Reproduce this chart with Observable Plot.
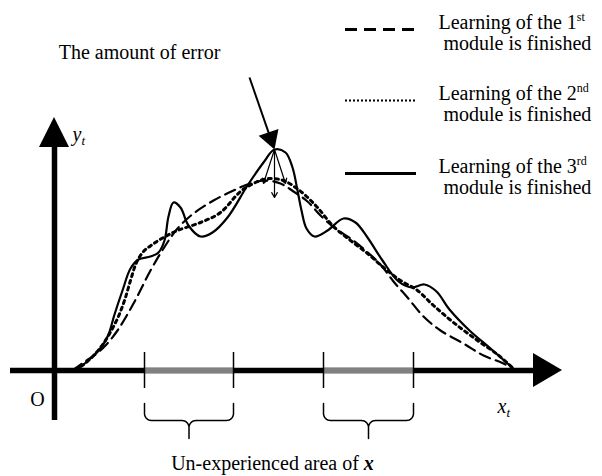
<!DOCTYPE html>
<html>
<head>
<meta charset="utf-8">
<script src="https://cdn.jsdelivr.net/npm/d3@7"></script>
<script src="https://cdn.jsdelivr.net/npm/@observablehq/plot@0.6"></script>
<style>
  html, body { margin: 0; padding: 0; background: #fff; }
  svg { display: block; }
</style>
</head>
<body>
<div id="chart"></div>
<script>
// ---------------- DATA ----------------
// x: distance to the right of the y-axis, y: height above the x-axis
const seriesNames = ["1st module", "2nd module", "3rd module"];

// after learning of the 1st module (dashed)
const curve1X = [18,29,41,51,63,79,96,109,123,139,159,179,196,211,226,239,253,266,281,296,311,326,339,353,369,386,409,429,449,461];
const curve1Y = [0,8,16,25,40,67,100,122,142,157,170,180,187,190,187,179,169,155,142,132,120,106,89,73,54,40,27,15,7,0];

// after learning of the 2nd module (dotted)
const curve2X = [21,34,46,54,63,70,76,82,89,98,109,123,146,166,186,201,214,229,241,251,263,279,296,313,329,346,363,379,399,423,443,461];
const curve2Y = [0,10,23,35,52,70,90,108,119,126,133,140,148,158,179,188,192,190,183,175,163,144,130,117,103,90,80,65,48,30,16,0];

// after learning of the 3rd module (solid)
const curve3X = [16,26,36,48,54,60,68,76,84,96,104,110,114,119,126,134,146,158,173,193,209,220,231,238,243,247,252,260,273,289,301,313,328,344,357,370,382,395,415,436,461];
const curve3Y = [0,4,12,25,36,56,80,102,111,114,118,130,154,168,163,145,134,138,153,185,208,221,218,203,180,160,142,134,140,152,148,133,110,89,83,86,79,61,40,22,0];

// un-experienced intervals of x
const gapStart = [90, 269];
const gapEnd   = [179, 359];

// texts
const legendLine1 = ["Learning of the 1", "Learning of the 2", "Learning of the 3"];
const legendSup   = ["st", "nd", "rd"];
const legendLine2 = "module is finished";
const errorLabel  = "The amount of error";
const areaLabel   = "Un-experienced area of";
const originLabel = "O";

// ---------------- LAYOUT ----------------
const FONT = "'Liberation Serif','Times New Roman',serif";
const rows = (xs, ys) => xs.map((x, i) => ({x, y: ys[i]}));
const c1 = rows(curve1X, curve1Y), c2 = rows(curve2X, curve2Y), c3 = rows(curve3X, curve3Y);

const peakI = d3.maxIndex(curve3Y);
const peak = {x: curve3X[peakI], y: curve3Y[peakI]};
const arrowStart = {x: 195, y: 293};
const headR = 10;
const headS = Math.sqrt(Math.PI * headR * headR) * 0.6824;
const sx = peak.x - arrowStart.x, sy = -(peak.y - arrowStart.y);
const slen = Math.hypot(sx, sy);
const headC = {x: peak.x - headS * sx / slen, y: peak.y + headS * sy / slen};
const headRot = Math.atan2(sx, -sy) * 180 / Math.PI;
const fanTargets = [{x: peak.x - 11, y: 187}, {x: peak.x, y: 173}, {x: peak.x + 11, y: 187}];

const gaps = gapStart.map((s, i) => ({s, e: gapEnd[i]}));
const ticks = gapStart.concat(gapEnd);

// brace paths
function bracePts(a, b, id) {
  const m = (a + b) / 2, top = -33, h = -50, tip = -68, r = 7, pts = [];
  const arc = (cx, cy, a0, a1) => { for (let k = 0; k <= 8; k++) { const t = a0 + (a1 - a0) * k / 8; pts.push({x: cx + r * Math.cos(t), y: cy + r * Math.sin(t), id}); } };
  pts.push({x: a, y: top, id});
  arc(a + r, h + r, Math.PI, 1.5 * Math.PI);
  arc(m - r, h - r, 0.5 * Math.PI, 0);
  pts.push({x: m, y: tip, id});
  arc(m + r, h - r, Math.PI, 0.5 * Math.PI);
  arc(b - r, h + r, 1.5 * Math.PI, 2 * Math.PI);
  pts.push({x: b, y: top, id});
  return pts;
}
const braces = gaps.flatMap((g, i) => bracePts(g.s, g.e, i));

const legendY = [341, 270, 197];
const legendRows = legendLine1.map((t, i) => ({t, y1: legendY[i] + 1, y2: legendY[i] - 20, ys: legendY[i]}));

const textOpts = {fontFamily: FONT, fontSize: 20, fill: "black", lineAnchor: "bottom"};

const svg = Plot.plot({
  width: 602,
  height: 476,
  margin: 0,
  x: {domain: [-54, 548], axis: null},
  y: {domain: [-106, 370], axis: null},
  style: {background: "#fff", fontFamily: FONT},
  marks: [
    // x axis
    Plot.ruleY([0], {x1: -44, x2: 480, strokeWidth: 5.5, stroke: "black"}),
    Plot.ruleY(gaps, {x1: "s", x2: "e", y: 0, strokeWidth: 5.5, stroke: "#808080"}),
    Plot.ruleX(ticks, {y1: -18, y2: 18, strokeWidth: 1.5, stroke: "black"}),
    Plot.areaY([{x: 479, a: -17, b: 17}, {x: 508, a: 0, b: 0}], {x: "x", y1: "a", y2: "b", fill: "black"}),
    // y axis
    Plot.ruleX([0], {y1: -50, y2: 224, strokeWidth: 5.5, stroke: "black"}),
    Plot.areaX([{y: 223, a: -15, b: 15}, {y: 253, a: 0, b: 0}], {y: "y", x1: "a", x2: "b", fill: "black"}),
    // curves
    Plot.line(c1, {x: "x", y: "y", curve: "catmull-rom", stroke: "black", strokeWidth: 2.2, strokeDasharray: "11,6"}),
    Plot.line(c2, {x: "x", y: "y", curve: "catmull-rom", stroke: "black", strokeWidth: 3, strokeDasharray: "3,4"}),
    Plot.line(c3, {x: "x", y: "y", curve: "catmull-rom", stroke: "black", strokeWidth: 2.2}),
    // error arrows
    Plot.arrow(fanTargets, {x1: peak.x, y1: peak.y, x2: "x", y2: "y", headLength: 7, strokeWidth: 1.2, stroke: "black"}),
    Plot.link([arrowStart], {x1: "x", y1: "y", x2: headC.x, y2: headC.y, strokeWidth: 2, stroke: "black"}),
    Plot.dot([headC], {x: "x", y: "y", r: headR, symbol: "triangle2", fill: "black", stroke: "none", rotate: headRot}),
    // braces
    Plot.line(braces, {x: "x", y: "y", z: "id", stroke: "black", strokeWidth: 1.5}),
    // legend samples
    Plot.ruleY([legendY[0]], {x1: 291, x2: 362, stroke: "black", strokeWidth: 3, strokeDasharray: "12,7"}),
    Plot.ruleY([legendY[1]], {x1: 291, x2: 363, stroke: "black", strokeWidth: 2, strokeDasharray: "2,2"}),
    Plot.ruleY([legendY[2]], {x1: 291, x2: 362, stroke: "black", strokeWidth: 3}),
    // legend texts
    Plot.text(legendRows, {x: 384, y: "y1", text: "t", textAnchor: "start", ...textOpts}),
    Plot.text(legendRows, {x: 389, y: "y2", text: () => legendLine2, textAnchor: "start", ...textOpts}),
    // labels
    Plot.text([errorLabel], {x: 85, y: 312, textAnchor: "middle", ...textOpts}),
    Plot.text([areaLabel], {x: 218, y: -99, textAnchor: "middle", ...textOpts}),
    Plot.text([originLabel], {x: -17, y: -35, textAnchor: "middle", ...textOpts}),
    Plot.text(["x"], {x: 443, y: -42, textAnchor: "start", fontStyle: "italic", ...textOpts}),
    Plot.text(["y"], {x: 18, y: 230, textAnchor: "start", fontStyle: "italic", ...textOpts})
  ]
});

// rich text: superscripts / subscripts / bold italic x
d3.select(svg).selectAll("text").each(function () {
  const t = this.textContent;
  const sel = d3.select(this);
  const li = legendLine1.indexOf(t);
  if (li >= 0) {
    sel.append("tspan").attr("font-size", 12).attr("dy", -8).text(legendSup[li]);
  } else if (t === "x" || t === "y") {
    sel.append("tspan").attr("font-size", 13).attr("dy", 4).text("t");
  } else if (t === areaLabel) {
    sel.append("tspan").attr("dx", 5).attr("font-weight", "bold").attr("font-style", "italic").text("x");
  }
});

document.getElementById("chart").append(svg);
</script>
</body>
</html>
